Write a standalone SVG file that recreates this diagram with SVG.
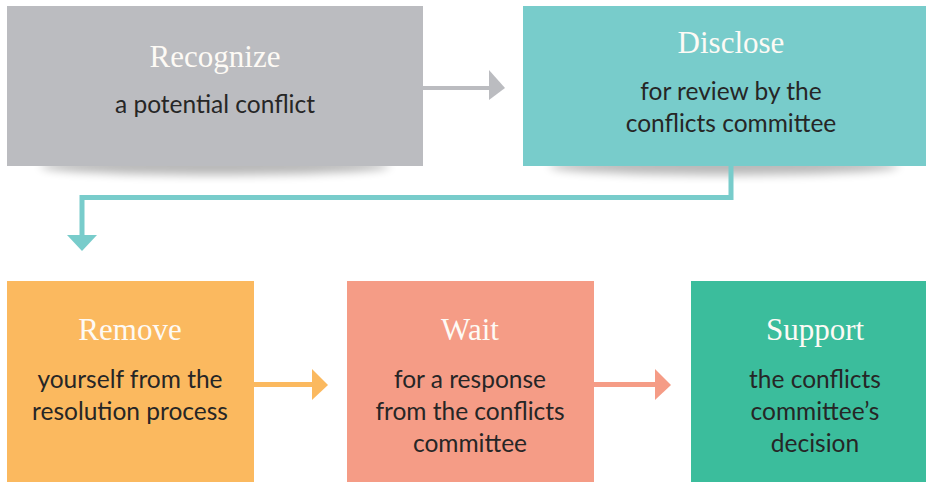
<svg xmlns="http://www.w3.org/2000/svg" width="929" height="483" viewBox="0 0 929 483">
<defs>
<filter id="blur" x="-20%" y="-200%" width="140%" height="500%"><feGaussianBlur stdDeviation="5"/></filter>
<style>
.title{font-family:"Liberation Serif","DejaVu Serif",serif;font-size:31px;fill:#fdfaf5;text-anchor:middle}
.sub{font-family:Lato,"Noto Sans",sans-serif;font-size:24.5px;fill:#262626;text-anchor:middle}
.shadow{fill:#000;opacity:0.28;filter:url(#blur)}
</style>
</defs>
<rect width="929" height="483" fill="#ffffff"/>
<g id="shadows">
<ellipse class="shadow" cx="215" cy="166" rx="175" ry="9"/>
<ellipse class="shadow" cx="724" cy="166" rx="175" ry="9"/>
</g>
<g id="connectors">
<rect x="423" y="86" width="67" height="4" fill="#BBBCC0"/>
<polygon points="489,70 505,88 489,100" fill="#BBBCC0"/>
<polyline points="731,166 731,197.5 82,197.5 82,236" fill="none" stroke="#78CCCB" stroke-width="5"/>
<polygon points="67,235 97,235 82,251" fill="#78CCCB"/>
<rect x="254" y="382" width="59" height="5" fill="#FBB95F"/>
<polygon points="312,369 328,385 312,400" fill="#FBB95F"/>
<rect x="594" y="382" width="62" height="5" fill="#F59C86"/>
<polygon points="655,369 671,385 655,400" fill="#F59C86"/>
</g>
<g id="recognize">
<rect x="7" y="6" width="416" height="160" fill="#BBBCC0"/>
<text class="title" x="215" y="67">Recognize</text>
<text class="sub" x="215" y="113">a potential conflict</text>
</g>
<g id="disclose">
<rect x="523" y="6" width="403" height="160" fill="#78CCCB"/>
<text class="title" x="731" y="53">Disclose</text>
<text class="sub" x="731" y="100">for review by the</text>
<text class="sub" x="731" y="132">conflicts committee</text>
</g>
<g id="remove">
<rect x="7" y="281" width="247" height="201" fill="#FBB95F"/>
<text class="title" x="130" y="340">Remove</text>
<text class="sub" x="130" y="388">yourself from the</text>
<text class="sub" x="130" y="420">resolution process</text>
</g>
<g id="wait">
<rect x="347" y="281" width="247" height="201" fill="#F59C86"/>
<text class="title" x="470" y="340">Wait</text>
<text class="sub" x="470" y="388">for a response</text>
<text class="sub" x="470" y="420">from the conflicts</text>
<text class="sub" x="470" y="452">committee</text>
</g>
<g id="support">
<rect x="691" y="281" width="235" height="201" fill="#3BBD9C"/>
<text class="title" x="815" y="340">Support</text>
<text class="sub" x="815" y="388">the conflicts</text>
<text class="sub" x="815" y="420">committee’s</text>
<text class="sub" x="815" y="452">decision</text>
</g>
</svg>
